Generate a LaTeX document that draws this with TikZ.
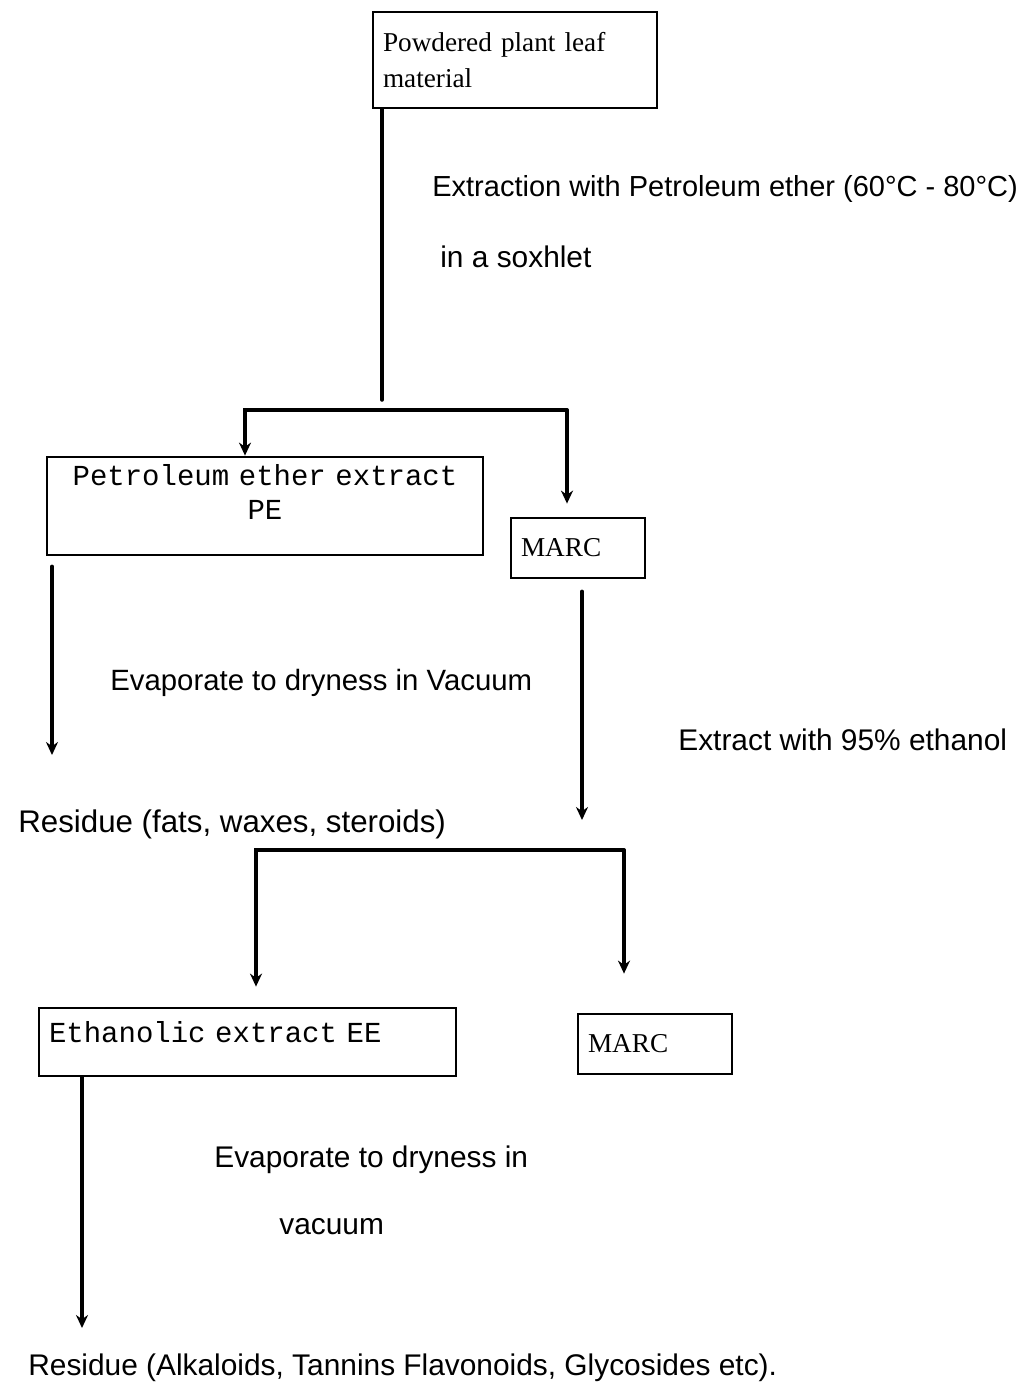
\documentclass[tikz,border=0pt]{standalone}
\usepackage{fontspec}
\setmainfont{Liberation Serif}
\setsansfont{Liberation Sans}
\setmonofont{Liberation Mono}
\usetikzlibrary{arrows.meta}

\begin{document}
\begin{tikzpicture}[x=0.02cm,y=-0.02cm,>={Stealth[length=2.6mm,width=2.4mm]},line cap=round,
  box/.style={draw,line width=1.6pt,inner xsep=0.2cm,inner ysep=0},
  serifbox/.style={box,font=\rmfamily\fontsize{15.5}{20}\selectfont},
  monobox/.style={box,font=\ttfamily\fontsize{16.5}{19}\selectfont},
  lbl/.style={font=\sffamily\fontsize{17}{20}\selectfont,anchor=base west,inner sep=0},
  flow/.style={line width=2pt}]
\useasboundingbox (0,0) rectangle (1029,1389);
\node[serifbox,minimum width=5.68cm,minimum height=1.92cm,text width=5.28cm,align=left] (top) at (515,60) {Powdered plant leaf\\material};
\node[monobox,minimum width=8.72cm,minimum height=1.96cm,text width=8.32cm,align=center] (pe) at (265,506) {Petroleum ether extract\\PE\\[-3pt]\mbox{}};
\node[serifbox,minimum width=2.68cm,minimum height=1.2cm,text width=2.28cm,align=left] (marc1) at (578,548) {MARC};
\node[monobox,minimum width=8.34cm,minimum height=1.36cm,text width=7.94cm,align=left] (ee) at (247.5,1042) {Ethanolic extract EE\\[-8pt]\mbox{}};
\node[serifbox,minimum width=3.08cm,minimum height=1.2cm,text width=2.68cm,align=left] (marc2) at (655,1044) {MARC};
\node[lbl,font=\sffamily\fontsize{16.5}{20}\selectfont] (ext1) at (432,196) {Extraction with Petroleum ether (60°C - 80°C)};
\node[lbl] (ext2) at (440,267) {in a soxhlet};
\node[lbl,font=\sffamily\fontsize{16.7}{20}\selectfont] (evap1) at (110,690) {Evaporate to dryness in Vacuum};
\node[lbl] (eth) at (678,750) {Extract with 95\% ethanol};
\node[lbl,font=\sffamily\fontsize{17.8}{20}\selectfont] (res1) at (18,832) {Residue (fats, waxes, steroids)};
\node[lbl] (evap2) at (214,1167) {Evaporate to dryness in};
\node[lbl] (vac) at (279,1234) {vacuum};
\node[lbl] (res2) at (28,1375) {Residue (Alkaloids, Tannins Flavonoids, Glycosides etc).};
\coordinate (j1) at (382,400);
\coordinate (b1l) at (245,410);
\coordinate (b1r) at (567,410);
\coordinate (pe-tip) at (52,755);
\coordinate (m1-tip) at (582,820);
\coordinate (b2l) at (256,850);
\coordinate (b2r) at (624,850);
\coordinate (ee-tip) at (82,1328);
\draw[flow] (j1 |- top.south) -- (j1);
\draw[flow,->] (b1r) -- (b1l) -- (b1l |- pe.north);
\draw[flow,->,shorten >=0.26cm] (b1r) -- (b1r |- marc1.north);
\draw[flow,->,shorten <=0.2cm] (pe-tip |- pe.south) -- (pe-tip);
\draw[flow,->,shorten <=0.24cm] (m1-tip |- marc1.south) -- (m1-tip);
\draw[flow,->,shorten >=0.4cm] (b2r) -- (b2l) -- (b2l |- ee.north);
\draw[flow,->,shorten >=0.78cm] (b2r) -- (b2r |- marc2.north);
\draw[flow,->] (ee-tip |- ee.south) -- (ee-tip);
\end{tikzpicture}
\end{document}
